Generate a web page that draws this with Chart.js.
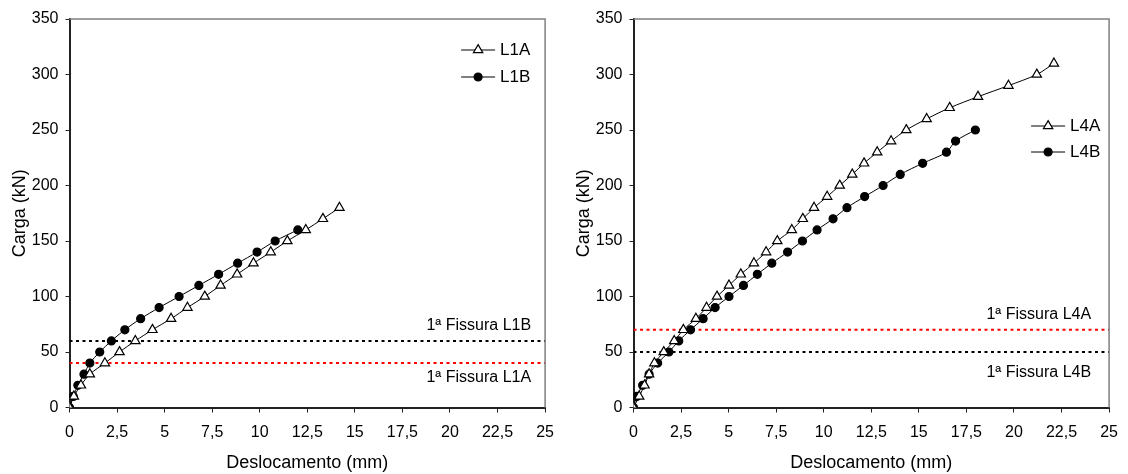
<!DOCTYPE html>
<html>
<head>
<meta charset="utf-8">
<script src="https://cdn.jsdelivr.net/npm/chart.js@4.4.1/dist/chart.umd.min.js"></script>
<style>
  html, body { margin: 0; padding: 0; background: #fff; }
  #wrap { position: relative; width: 1128px; height: 474px; }
  canvas { position: absolute; top: 0; }
  #c1 { left: 0; }
  #c2 { left: 564px; }
</style>
</head>
<body>
<div id="wrap">
  <canvas id="c1" width="564" height="474"></canvas>
  <canvas id="c2" width="564" height="474"></canvas>
</div>
<script>
// dados (deslocamento em mm, carga em kN)
const l1aX = [0, 0.23, 0.6, 1.07, 1.86, 2.63, 3.46, 4.36, 5.34, 6.2, 7.11, 7.94, 8.81, 9.67, 10.58, 11.45, 12.42, 13.32, 14.19];
const l1aY = [0, 10, 20, 30, 40, 50, 60, 70, 80, 90, 100, 110, 120, 130, 140, 150, 160, 170, 180];
const l1bX = [0, 0.2, 0.44, 0.76, 1.07, 1.59, 2.2, 2.91, 3.74, 4.71, 5.76, 6.8, 7.84, 8.84, 9.86, 10.81, 12.0];
const l1bY = [0, 10, 20, 30, 40, 50, 60, 70, 80, 90, 100, 110, 120, 130, 140, 150, 160];

const l4aX = [0, 0.3, 0.58, 0.82, 1.1, 1.59, 2.14, 2.62, 3.28, 3.84, 4.39, 5.02, 5.64, 6.33, 6.97, 7.56, 8.32, 8.9, 9.49, 10.18, 10.84, 11.5, 12.12, 12.81, 13.54, 14.34, 15.41, 16.62, 18.11, 19.71, 21.2, 22.1];
const l4aY = [0, 10, 20, 30, 40, 50, 60, 70, 80, 90, 100, 110, 120, 130, 140, 150, 160, 170, 180, 190, 200, 210, 220, 230, 240, 250, 260, 270, 280, 290, 300, 310];
const l4bX = [0, 0.17, 0.48, 0.82, 1.27, 1.86, 2.38, 3.0, 3.66, 4.29, 5.02, 5.78, 6.51, 7.27, 8.1, 8.88, 9.65, 10.49, 11.22, 12.15, 13.12, 14.02, 15.2, 16.45, 16.93, 17.97];
const l4bY = [0, 10, 20, 30, 40, 50, 60, 70, 80, 90, 100, 110, 120, 130, 140, 150, 160, 170, 180, 190, 200, 210, 220, 230, 240, 250];

const xTicks = [0, 2.5, 5, 7.5, 10, 12.5, 15, 17.5, 20, 22.5, 25];
const yTicks = [0, 50, 100, 150, 200, 250, 300, 350];

// cargas da primeira fissura
const fissuraL1A = 40;
const fissuraL1B = 60;
const fissuraL4A = 70;
const fissuraL4B = 50;

const FONT = "'Liberation Sans', Arial, sans-serif";

function pontos(xs, ys) {
  return xs.map((x, i) => ({ x: x, y: ys[i] }));
}

function serie(label, xs, ys, tipo) {
  const tri = tipo === 'triangle';
  return {
    label: label,
    data: pontos(xs, ys),
    showLine: true,
    borderColor: '#000',
    borderWidth: 1,
    tension: 0.3,
    pointStyle: tipo,
    pointRadius: tri ? 5.4 : 4,
    pointHoverRadius: tri ? 5.4 : 4,
    pointBackgroundColor: tri ? '#fff' : '#000',
    pointBorderColor: '#000',
    pointBorderWidth: 1.2
  };
}

function linhaFissura(valor, cor) {
  return {
    label: '_fissura',
    data: [{ x: xTicks[0], y: valor }, { x: xTicks[xTicks.length - 1], y: valor }],
    showLine: true,
    borderColor: cor,
    borderWidth: 2,
    borderDash: [3, 3.5],
    pointRadius: 0,
    pointHoverRadius: 0
  };
}

// moldura cinza (topo e direita) + legenda + textos das fissuras
const extras = {
  id: 'extras',
  afterDraw(chart, args, opts) {
    const { ctx, chartArea, scales } = chart;
    ctx.save();
    ctx.strokeStyle = '#808080';
    ctx.lineWidth = 1.5;
    ctx.beginPath();
    ctx.moveTo(chartArea.left, chartArea.top);
    ctx.lineTo(chartArea.right, chartArea.top);
    ctx.lineTo(chartArea.right, chartArea.bottom);
    ctx.stroke();

    // textos "1ª Fissura"
    ctx.fillStyle = '#000';
    ctx.font = '16px ' + FONT;
    ctx.textAlign = 'right';
    ctx.textBaseline = 'middle';
    opts.textos.forEach(t => {
      const y = scales.y.getPixelForValue(t.valor) + t.dy;
      ctx.fillText(t.texto, chartArea.right - opts.textoDx, y);
    });

    // legenda
    ctx.font = '17px ' + FONT;
    const series = chart.data.datasets.filter(d => d.label[0] !== '_');
    series.forEach((d, i) => {
      const x0 = chartArea.right - opts.legX;
      const y = chartArea.top + opts.legY + i * opts.legGap;
      ctx.strokeStyle = '#000';
      ctx.lineWidth = 1;
      ctx.beginPath();
      ctx.moveTo(x0, y);
      ctx.lineTo(x0 + 34, y);
      ctx.stroke();
      ctx.fillStyle = d.pointBackgroundColor;
      ctx.strokeStyle = '#000';
      ctx.lineWidth = 1.2;
      Chart.helpers.drawPoint(ctx, {
        pointStyle: d.pointStyle,
        radius: d.pointRadius,
        borderWidth: 1.2
      }, x0 + 17, y);
      ctx.textAlign = 'left';
      ctx.fillStyle = '#000';
      ctx.fillText(d.label, x0 + 39, y);
    });
    ctx.restore();
  }
};

function config(datasets, padRight, extrasOpts) {
  return {
    type: 'scatter',
    data: { datasets: datasets },
    options: {
      responsive: false,
      animation: false,
      layout: { padding: { top: 19, right: padRight, bottom: 0, left: 0 } },
      plugins: {
        legend: { display: false },
        tooltip: { enabled: false },
        extras: extrasOpts
      },
      scales: {
        x: {
          type: 'linear',
          min: xTicks[0],
          max: xTicks[xTicks.length - 1],
          afterBuildTicks: s => { s.ticks = xTicks.map(v => ({ value: v })); },
          afterFit: s => { s.height = 66.5; },
          ticks: {
            autoSkip: false,
            maxRotation: 0,
            color: '#000',
            padding: 10,
            font: { family: FONT, size: 16 },
            callback: v => String(v).replace('.', ',')
          },
          grid: { drawOnChartArea: false, drawTicks: true, tickLength: 5, tickColor: '#222' },
          border: { display: true, color: '#222', width: 2 },
          title: {
            display: true,
            text: 'Deslocamento (mm)',
            color: '#000',
            font: { family: FONT, size: 18 },
            padding: { top: 0, bottom: 0 }
          }
        },
        y: {
          type: 'linear',
          min: yTicks[0],
          max: yTicks[yTicks.length - 1],
          afterBuildTicks: s => { s.ticks = yTicks.map(v => ({ value: v })); },
          afterFit: s => { s.width = 69.5; },
          ticks: {
            color: '#000',
            padding: 7,
            font: { family: FONT, size: 16 }
          },
          grid: { drawOnChartArea: false, drawTicks: true, tickLength: 4, tickColor: '#222' },
          border: { display: true, color: '#222', width: 2 },
          title: {
            display: true,
            text: 'Carga (kN)',
            color: '#000',
            font: { family: FONT, size: 18 },
            padding: { top: 9, bottom: 0 }
          }
        }
      }
    },
    plugins: [extras]
  };
}

new Chart(document.getElementById('c1'), config([
  serie('L1A', l1aX, l1aY, 'triangle'),
  serie('L1B', l1bX, l1bY, 'circle'),
  linhaFissura(fissuraL1B, '#000'),
  linhaFissura(fissuraL1A, '#ff0000')
], 15, {
  legX: 84, legY: 31, legGap: 27, textoDx: 14,
  textos: [
    { valor: fissuraL1B, texto: '1ª Fissura L1B', dy: -15 },
    { valor: fissuraL1A, texto: '1ª Fissura L1A', dy: 14 }
  ]
}));

new Chart(document.getElementById('c2'), config([
  serie('L4A', l4aX, l4aY, 'triangle'),
  serie('L4B', l4bX, l4bY, 'circle'),
  linhaFissura(fissuraL4A, '#ff0000'),
  linhaFissura(fissuraL4B, '#000')
], 13.3, {
  legX: 78, legY: 107, legGap: 26, textoDx: 18,
  textos: [
    { valor: fissuraL4A, texto: '1ª Fissura L4A', dy: -15 },
    { valor: fissuraL4B, texto: '1ª Fissura L4B', dy: 21 }
  ]
}));
</script>
</body>
</html>
